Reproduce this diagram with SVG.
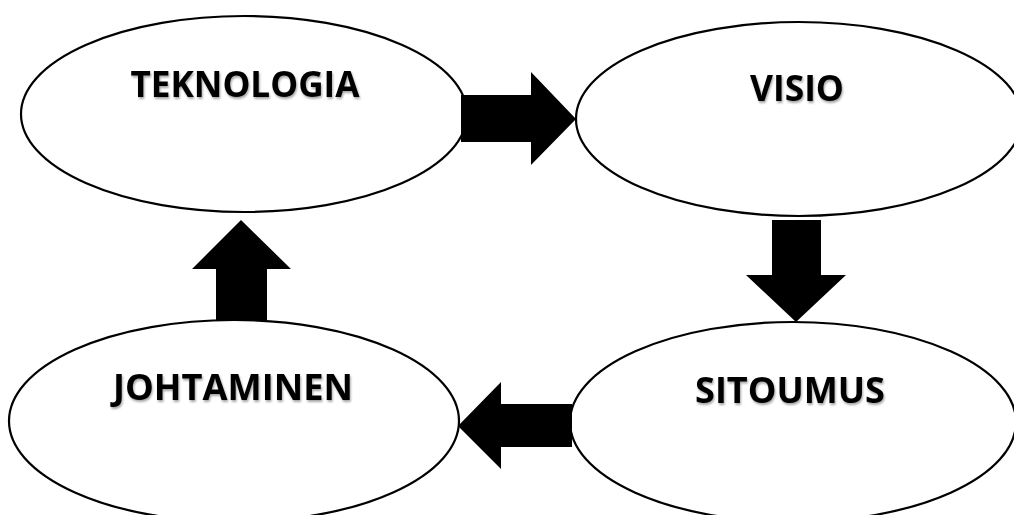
<svg xmlns="http://www.w3.org/2000/svg" width="1014" height="515" viewBox="0 0 1014 515">
  <defs>
    <filter id="shadow" x="-10%" y="-30%" width="120%" height="160%">
      <feDropShadow dx="1" dy="2" stdDeviation="1.2" flood-color="#000000" flood-opacity="0.35"/>
    </filter>
  </defs>
  <style>
    .node { fill: #ffffff; stroke: #000000; stroke-width: 2.2; }
    .label { font-family: "Open Sans", "Liberation Sans", Arial, sans-serif; font-weight: bold; font-size: 35px; fill: #000000; text-anchor: middle; filter: url(#shadow); }
    .arrow { fill: #000000; stroke: none; }
  </style>
  <rect width="1014" height="515" fill="#ffffff"/>
  <g id="teknologia">
    <ellipse class="node" cx="244" cy="114" rx="223" ry="98"/>
    <text class="label" x="245" y="97" textLength="229" lengthAdjust="spacingAndGlyphs">TEKNOLOGIA</text>
  </g>
  <g id="visio">
    <ellipse class="node" cx="799" cy="119" rx="223" ry="97"/>
    <text class="label" x="797" y="101" textLength="94" lengthAdjust="spacingAndGlyphs">VISIO</text>
  </g>
  <g id="sitoumus">
    <ellipse class="node" cx="793" cy="422" rx="223" ry="100"/>
    <text class="label" x="790" y="403" textLength="190" lengthAdjust="spacingAndGlyphs">SITOUMUS</text>
  </g>
  <g id="johtaminen">
    <ellipse class="node" cx="234" cy="421" rx="225" ry="101"/>
    <text class="label" x="233" y="400" textLength="240" lengthAdjust="spacingAndGlyphs">JOHTAMINEN</text>
  </g>
  <g id="connectors">
    <polygon class="arrow" points="461,95 531,95 531,72 576,119 531,165 531,142 461,142"/>
    <polygon class="arrow" points="772,220 821,220 821,275 846,275 796,322 746,275 772,275"/>
    <polygon class="arrow" points="572,404 501,404 501,382 458,426 501,469 501,447 572,447"/>
    <polygon class="arrow" points="216,320 216,269 192,269 241,220 291,269 267,269 267,320"/>
  </g>
</svg>
